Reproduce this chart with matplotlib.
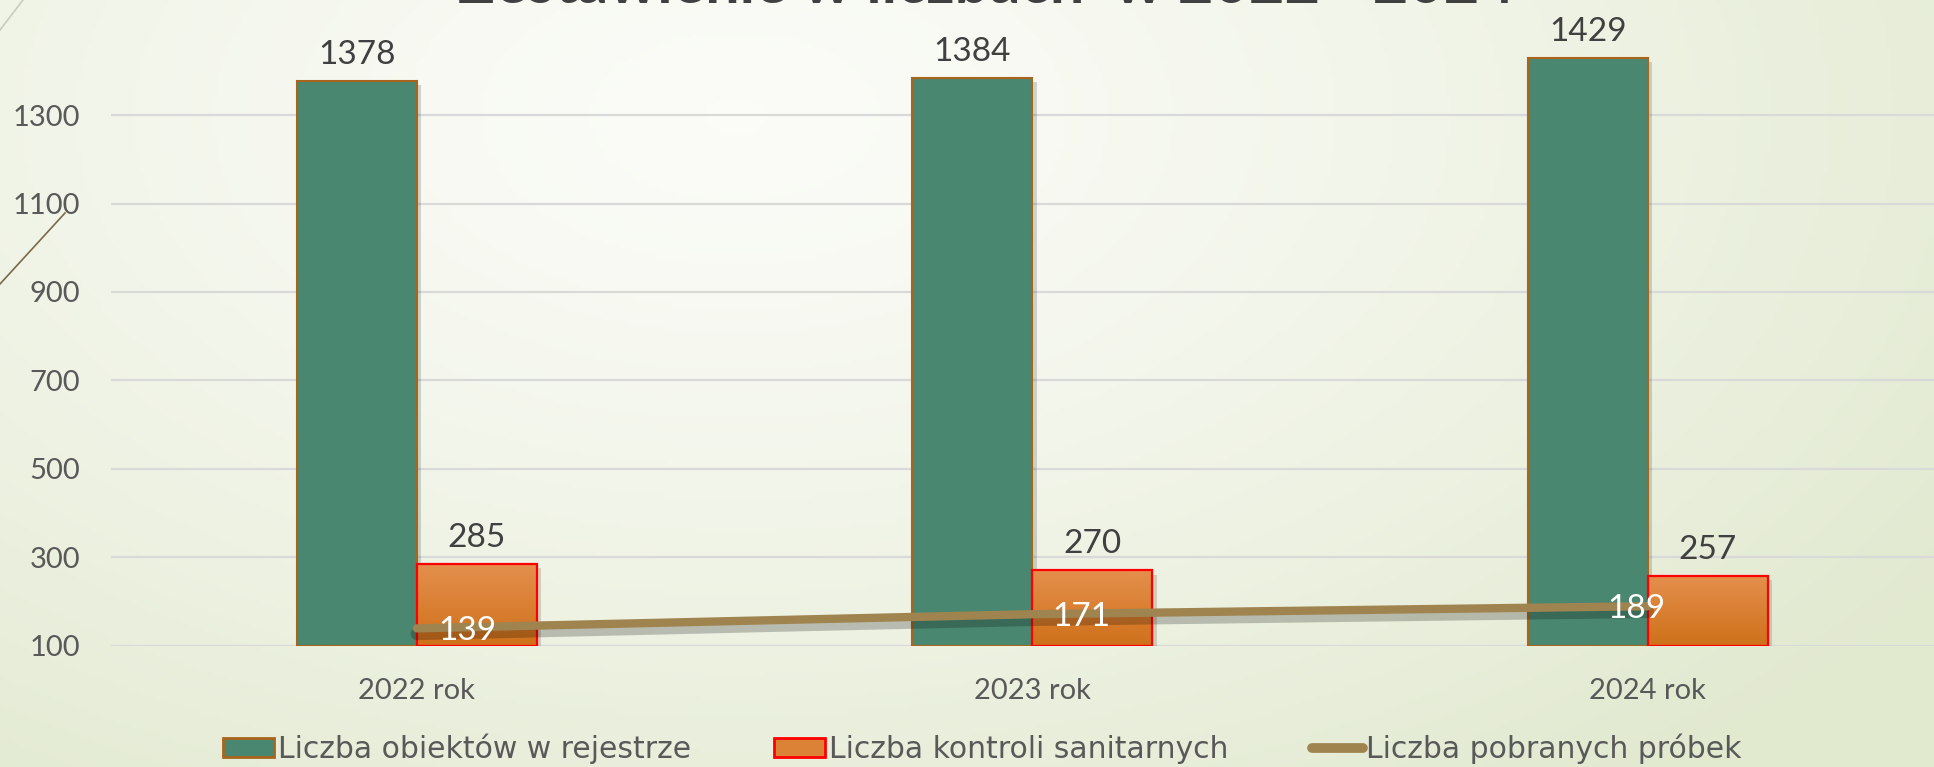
import numpy as np
import matplotlib.pyplot as plt
import matplotlib.patheffects as pe
from matplotlib.lines import Line2D
from matplotlib.patches import Patch
from matplotlib.colors import LinearSegmentedColormap

plt.rcParams['font.family'] = ['Lato', 'DejaVu Sans']

# data
years = ['2022 rok', '2023 rok', '2024 rok']
obiekty = [1378, 1384, 1429]
kontrole = [285, 270, 257]
probki = [139, 171, 189]
series_names = ['Liczba obiektów w rejestrze', 'Liczba kontroli sanitarnych', 'Liczba pobranych próbek']
title = 'Zestawienie w liczbach  w 2022 - 2024'

GREEN = '#4a8770'
GREEN_EDGE = '#a9651c'
ORANGE_TOP = '#e48f4d'
ORANGE_BOT = '#cf711a'
LINE_COL = '#a08450'
TICK_COL = '#595959'
LABEL_COL = '#404040'

fig = plt.figure(figsize=(19.34, 7.67), dpi=100)

# slide background: soft radial gradient
bg = fig.add_axes([0, 0, 1, 1], zorder=-10)
gx, gy = np.meshgrid(np.linspace(0, 1, 400), np.linspace(0, 1, 160))
d = np.sqrt(((gx - 0.38) / 0.75) ** 2 + ((gy - 0.85) / 1.1) ** 2)
d = np.clip(d, 0, 1)
c0 = np.array([0.985, 0.988, 0.972])
c1 = np.array([0.885, 0.915, 0.815])
img = c0 + (c1 - c0) * d[..., None] ** 1.3
bg.imshow(img, extent=[0, 1, 0, 1], origin='lower', aspect='auto')
bg.axis('off')

# decorative slide lines in the corner
fig.add_artist(Line2D([0, 65 / 1934], [1 - 284 / 767, 1 - 213 / 767], color='#7a6a4a', lw=1.2))
fig.add_artist(Line2D([0, 23 / 1934], [1 - 30 / 767, 1.0], color='#c8cbbf', lw=1.2))

# title, mostly cut off by the top edge (as on the slide)
fig.text(0.51, 1 - 3 / 767, title, ha='center', va='baseline', fontsize=44,
         fontweight='bold', color='#404040')

ax = fig.add_axes([111 / 1934, 0.1583, 1 - 111 / 1934, 0.8068])
ax.patch.set_alpha(0)

x = np.arange(len(years))
w = 0.195
shadow = [pe.SimplePatchShadow(offset=(3, -3), alpha=0.18), pe.Normal()]

bars1 = ax.bar(x - w / 2, np.array(obiekty) - 100, w, bottom=100, color=GREEN,
               edgecolor=GREEN_EDGE, linewidth=1.5, zorder=3)
fill2 = ax.bar(x + w / 2, np.array(kontrole) - 100, w, bottom=100, color=ORANGE_TOP,
               linewidth=0, zorder=3)
for b in list(bars1) + list(fill2):
    b.set_path_effects(shadow)

# vertical gradient inside the orange bars
cmap = LinearSegmentedColormap.from_list('orng', [ORANGE_BOT, ORANGE_TOP])
grad = np.linspace(0, 1, 100).reshape(-1, 1)
for b in fill2:
    x0, y0 = b.get_x(), b.get_y()
    im = ax.imshow(grad, extent=[x0, x0 + b.get_width(), y0, y0 + b.get_height()],
                   origin='lower', cmap=cmap, aspect='auto', zorder=3.5)
    im.set_clip_path(b)
ax.bar(x + w / 2, np.array(kontrole) - 100, w, bottom=100, color='none',
       edgecolor='red', linewidth=1.6, zorder=4)

# line series with a soft shadow
ax.plot(x, probki, color=LINE_COL, lw=6, solid_capstyle='round', zorder=6,
        path_effects=[pe.SimpleLineShadow(offset=(0, -4), shadow_color='black', alpha=0.22, linewidth=9),
                      pe.Normal()])

# value labels
for xi, v in zip(x, obiekty):
    ax.annotate(str(v), (xi - w / 2, v), xytext=(0, 8), textcoords='offset points',
                ha='center', va='bottom', fontsize=24, color=LABEL_COL)
for xi, v in zip(x, kontrole):
    ax.annotate(str(v), (xi + w / 2, v), xytext=(0, 8), textcoords='offset points',
                ha='center', va='bottom', fontsize=24, color=LABEL_COL)
offsets = [36, 35, -8]
for xi, v, dx in zip(x, probki, offsets):
    ax.annotate(str(v), (xi, v), xytext=(dx, -2), textcoords='offset points',
                ha='center', va='center', fontsize=24, color='white', zorder=7)

ax.set_xlim(-0.497, 2.465)
ax.set_ylim(100, 1500)
ax.set_yticks(range(100, 1301, 200))
ax.set_xticks(x)
ax.set_xticklabels(years)
ax.tick_params(axis='y', length=0, pad=22, labelsize=21, labelcolor=TICK_COL)
ax.tick_params(axis='x', length=0, pad=23, labelsize=21, labelcolor=TICK_COL)
ax.grid(axis='y', color='#d9d9d9', lw=1.6, zorder=0)
for s in ax.spines.values():
    s.set_visible(False)

handles = [Patch(facecolor=GREEN, edgecolor=GREEN_EDGE, lw=2),
           Patch(facecolor='#dc8236', edgecolor='red', lw=2),
           Line2D([0], [0], color=LINE_COL, lw=7, solid_capstyle='round')]
fig.legend(handles, series_names, loc='center', bbox_to_anchor=(0.508, 1 - 749 / 767), ncol=3,
           frameon=False, prop={'family': 'DejaVu Sans', 'size': 21.5}, labelcolor=TICK_COL,
           handlelength=1.7, handleheight=0.6, handletextpad=0.12, columnspacing=2.8)

fig.savefig('out.png', dpi=100)
